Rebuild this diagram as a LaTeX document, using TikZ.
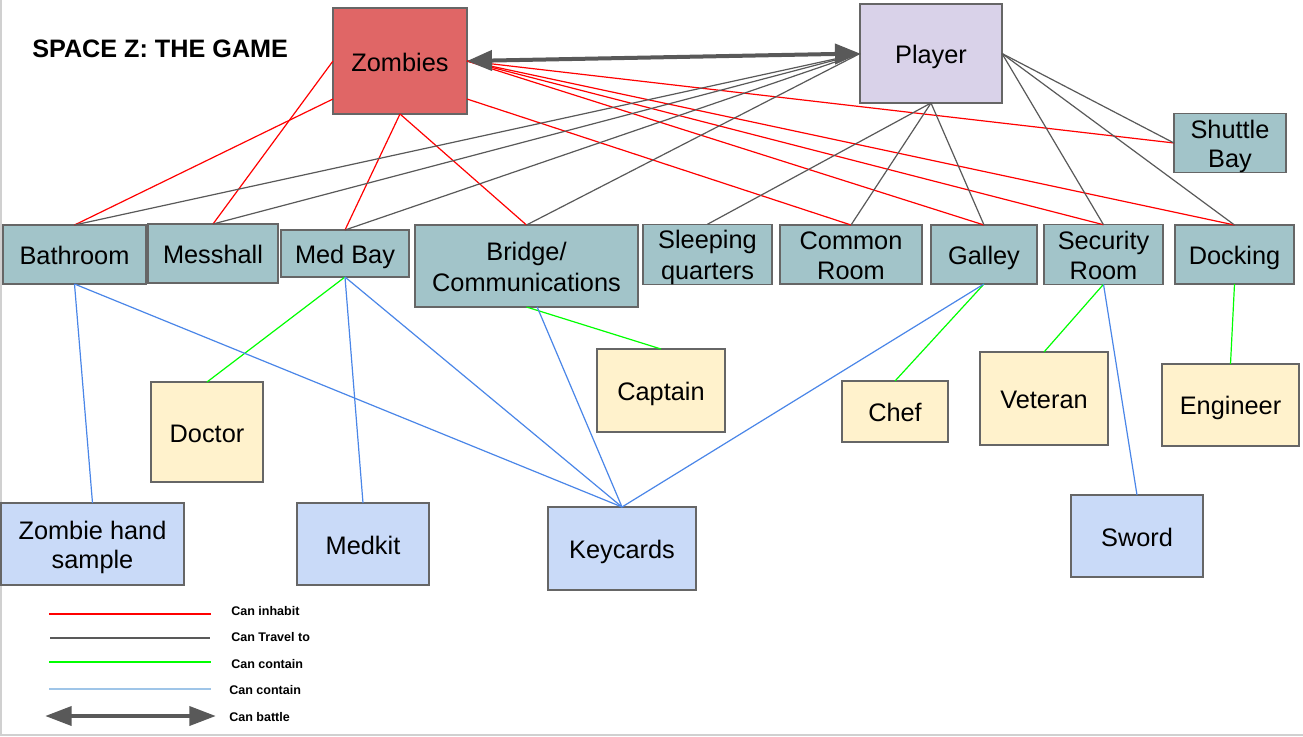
\documentclass[tikz,border=0pt]{standalone}
\usepackage{fontspec}
\setmainfont{Liberation Sans}
\usetikzlibrary{arrows.meta,calc}
\definecolor{zred}{HTML}{E06666}
\definecolor{plav}{HTML}{D9D2E9}
\definecolor{roomc}{HTML}{A2C4C9}
\definecolor{persc}{HTML}{FFF2CC}
\definecolor{itemc}{HTML}{C9DAF8}
\definecolor{bordc}{HTML}{666666}
\definecolor{inhab}{HTML}{FF0000}
\definecolor{travel}{HTML}{595959}
\definecolor{contg}{HTML}{00FF00}
\definecolor{contb}{HTML}{4A86E8}
\definecolor{contbl}{HTML}{9FC5E8}
\definecolor{framec}{HTML}{D0D0D0}
\newcommand\lns{\rule[-0.17em]{0pt}{1.13em}}
\tikzset{
  box/.style={draw=bordc, line width=1.1pt, inner sep=0pt, outer sep=0pt, align=center,
    font=\fontsize{19}{21.8}\selectfont},
  wh/.style 2 args={minimum width=#1*0.75pt, minimum height=#2*0.75pt},
  zomb/.style={box, fill=zred},
  playr/.style={box, fill=plav},
  room/.style={box, fill=roomc},
  pers/.style={box, fill=persc},
  item/.style={box, fill=itemc},
  inhabit/.style={draw=inhab, line width=0.9pt},
  travelto/.style={draw=travel, line width=0.9pt},
  containg/.style={draw=contg, line width=0.9pt},
  containb/.style={draw=contb, line width=0.9pt},
  battle/.style={draw=travel, line width=3pt, {Triangle[length=18.75pt,width=15pt]}-{Triangle[length=18.75pt,width=15pt]}},
  legtext/.style={anchor=west, inner sep=0pt, font=\fontsize{9.4}{11}\selectfont\bfseries},
}
\begin{document}
\begin{tikzpicture}[x=0.75pt, y=-0.75pt]
\useasboundingbox (0,0) rectangle (1303,736);
\fill[white] (0,0) rectangle (1303,736);
\draw[framec, line width=1.5pt] (0.5,0) -- (0.5,735) -- (1303,735);

\node[anchor=west, inner sep=0pt, font=\fontsize{18.9}{22}\selectfont\bfseries] (title) at (32,49) {SPACE Z: THE GAME};

% main actors
\node[zomb, wh={134}{106}] (zombies) at (400,61) {\lns Zombies};
\node[playr, wh={142}{99}] (player) at (931,53.5) {\lns Player};
\node[room, wh={112}{56}] (shuttle) at (1230,143) {\lns Shuttle\\\lns Bay};

% rooms
\node[room, wh={143}{59}] (bathroom) at (74.5,254.5) {\lns Bathroom};
\node[room, wh={130}{59}] (messhall) at (213,253.5) {\lns Messhall};
\node[room, wh={128}{47}] (medbay) at (345,253.5) {\lns Med Bay};
\node[room, wh={223}{82}] (bridge) at (526.5,266) {\lns Bridge/\\\lns Communications};
\node[room, wh={129}{59}] (sleeping) at (707.5,254.5) {\lns Sleeping\\\lns quarters};
\node[room, wh={142}{59}] (common) at (851,254.5) {\lns Common\\\lns Room};
\node[room, wh={106}{59}] (galley) at (984,254.5) {\lns Galley};
\node[room, wh={119}{59}] (security) at (1103.5,254.5) {\lns Security\\\lns Room};
\node[room, wh={119}{59}] (docking) at (1234.5,254.5) {\lns Docking};

% people
\node[pers, wh={112}{100}] (doctor) at (207,432) {\lns Doctor};
\node[pers, wh={128}{83}] (captain) at (661,390.5) {\lns Captain};
\node[pers, wh={106}{61}] (chef) at (895,411.5) {\lns Chef};
\node[pers, wh={128}{93}] (veteran) at (1044,398.5) {\lns Veteran};
\node[pers, wh={137}{82}] (engineer) at (1230.5,405) {\lns Engineer};

% items
\node[item, wh={183}{82}] (zhand) at (92.5,544) {\lns Zombie hand\\\lns sample};
\node[item, wh={132}{82}] (medkit) at (363,544) {\lns Medkit};
\node[item, wh={148}{83}] (keycards) at (622,548.5) {\lns Keycards};
\node[item, wh={132}{82}] (sword) at (1137,536) {\lns Sword};

% can inhabit
\draw[inhabit] (zombies.west) -- (messhall.north);
\draw[inhabit] ([yshift=11.25pt]zombies.south west) -- (bathroom.north);
\draw[inhabit] (zombies.south) -- (medbay.north);
\draw[inhabit] (zombies.south) -- (bridge.north);
\draw[inhabit] ([yshift=11.25pt]zombies.south east) -- (common.north);
\draw[inhabit] (zombies.east) -- (galley.north);
\draw[inhabit] (zombies.east) -- (security.north);
\draw[inhabit] (zombies.east) -- (docking.north);
\draw[inhabit] (zombies.east) -- (shuttle.west);

% can travel to
\draw[travelto] (player.west) -- (bathroom.north);
\draw[travelto] (player.west) -- (messhall.north);
\draw[travelto] (player.west) -- (medbay.north);
\draw[travelto] (player.west) -- (bridge.north);
\draw[travelto] (player.south) -- (sleeping.north);
\draw[travelto] (player.south) -- (common.north);
\draw[travelto] (player.south) -- (galley.north);
\draw[travelto] (player.east) -- (security.north);
\draw[travelto] (player.east) -- (docking.north);
\draw[travelto] (player.east) -- (shuttle.west);

% can contain (people)
\draw[containg] (medbay.south) -- (doctor.north);
\draw[containg] (bridge.south) -- (captain.north);
\draw[containg] (galley.south) -- (chef.north);
\draw[containg] (security.south) -- (veteran.north);
\draw[containg] (docking.south) -- (engineer.north);

% can contain (items)
\draw[containb] (bathroom.south) -- (zhand.north);
\draw[containb] (bathroom.south) -- (keycards.north);
\draw[containb] (medbay.south) -- (medkit.north);
\draw[containb] (medbay.south) -- (keycards.north);
\draw[containb] ([xshift=8pt]bridge.south) -- (keycards.north);
\draw[containb] (galley.south) -- (keycards.north);
\draw[containb] (security.south) -- (sword.north);

% can battle
\draw[battle] (zombies.east) -- (player.west);

% legend
\coordinate (la1) at (49,614); \coordinate (lb1) at (211,614);
\coordinate (la2) at (50,638); \coordinate (lb2) at (210,638);
\coordinate (la3) at (49,662); \coordinate (lb3) at (211,662);
\coordinate (la4) at (49,689); \coordinate (lb4) at (211,689);
\coordinate (la5) at (45,716); \coordinate (lb5) at (216,716);
\draw[draw=inhab, line width=1.1pt] (la1) -- (lb1);
\draw[draw=travel, line width=1.1pt] (la2) -- (lb2);
\draw[draw=contg, line width=1.1pt] (la3) -- (lb3);
\draw[draw=contbl, line width=1.1pt] (la4) -- (lb4);
\draw[draw=travel, line width=3.5pt, {Triangle[length=20pt,width=14pt]}-{Triangle[length=20pt,width=14pt]}] (la5) -- (lb5);
\node[legtext] (t1) at (231,611) {Can inhabit};
\node[legtext] (t2) at (231,637) {Can Travel to};
\node[legtext] (t3) at (231,664) {Can contain};
\node[legtext] (t4) at (229,690) {Can contain};
\node[legtext] (t5) at (229,717) {Can battle};
\end{tikzpicture}
\end{document}
